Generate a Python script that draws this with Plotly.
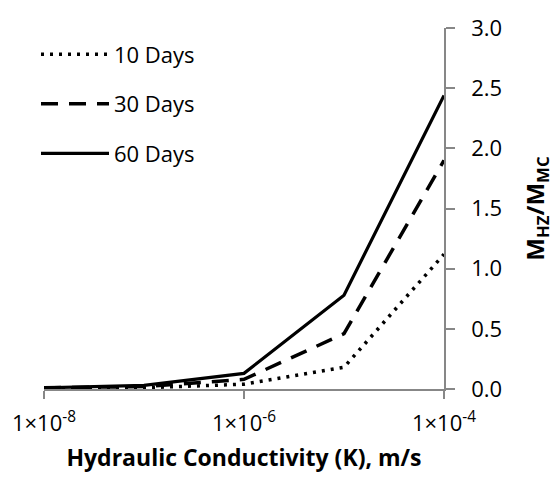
import plotly.graph_objects as go

# Hydraulic conductivity values (m/s) and mass ratio M_HZ/M_MC
k_values = [1e-8, 1e-7, 1e-6, 1e-5, 1e-4]
ratio_10d = [0.005, 0.01, 0.04, 0.18, 1.12]
ratio_30d = [0.01, 0.02, 0.08, 0.46, 1.90]
ratio_60d = [0.01, 0.03, 0.13, 0.78, 2.44]

series_names = ["10 Days", "30 Days", "60 Days"]
x_tick_vals = [1e-8, 1e-6, 1e-4]
x_tick_text = ["1×10<sup>-8</sup>", "1×10<sup>-6</sup>", "1×10<sup>-4</sup>"]
y_tick_vals = [0, 0.5, 1.0, 1.5, 2.0, 2.5, 3.0]

font_family = "Open Sans, Noto Sans, sans-serif"
axis_grey = "#878787"

fig = go.Figure()
styles = [("3px,6px", 3.5), ("17px,11px", 3.5), ("solid", 3.2)]
for name, ys, (dash, w) in zip(series_names, [ratio_10d, ratio_30d, ratio_60d], styles):
    fig.add_trace(go.Scatter(
        x=k_values, y=ys, mode="lines", name=name, legendgroup=name,
        line=dict(color="black", width=w, dash=dash),
    ))

fig.update_layout(
    width=557, height=483,
    margin=dict(l=36, r=113, t=20, b=94),
    paper_bgcolor="white", plot_bgcolor="white",
    font=dict(family=font_family, size=22, color="black"),
    showlegend=True,
    legend=dict(
        x=-0.02, y=0.985, xanchor="left", yanchor="top",
        bgcolor="rgba(0,0,0,0)", font=dict(size=22),
        tracegroupgap=18, itemwidth=68,
    ),
    xaxis=dict(
        type="log", range=[-8, -4],
        tickvals=x_tick_vals, ticktext=x_tick_text,
        showgrid=False, zeroline=False,
        showline=True, linecolor=axis_grey, linewidth=1.5,
        ticks="outside", ticklen=8, tickcolor=axis_grey, tickwidth=1.5,
        tickfont=dict(size=22), ticklabelstandoff=6,
        title=dict(text="<b>Hydraulic Conductivity (K), m/s</b>", font=dict(size=23), standoff=14),
    ),
    yaxis=dict(
        side="right", range=[0, 3.0],
        tickvals=y_tick_vals, tickformat=".1f",
        showgrid=False, zeroline=False,
        showline=True, linecolor=axis_grey, linewidth=1.5,
        ticks="outside", ticklen=9, tickcolor=axis_grey, tickwidth=1.5,
        tickfont=dict(size=22), ticklabelstandoff=12,
        title=dict(text="<b>M<sub>HZ</sub>/M<sub>MC</sub></b>", font=dict(size=24), standoff=26),
    ),
)

fig.write_html("out.html")
